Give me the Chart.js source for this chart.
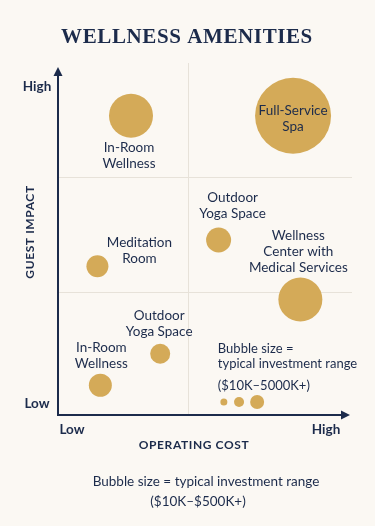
<!DOCTYPE html>
<html>
<head>
<meta charset="utf-8">
<script src="https://cdn.jsdelivr.net/npm/chart.js@4.4.1/dist/chart.umd.min.js"></script>
<style>
  html, body { margin: 0; padding: 0; background: #fbf8f3; overflow: hidden; }
  #wrap { width: 375px; height: 526px; position: relative; }
  canvas { display: block; }
</style>
</head>
<body>
<div id="wrap"><canvas id="wellnessChart" width="375" height="526"></canvas></div>
<script>
// amenity bubbles (cost = x, impact = y, size = bubble radius in px)
var categories = ['In-Room Wellness', 'Full-Service Spa', 'Outdoor Yoga Space', 'Meditation Room',
    'Wellness Center with Medical Services', 'Outdoor Yoga Space', 'In-Room Wellness'];
var labelLines = [['In-Room', 'Wellness'], ['Full-Service', 'Spa'], ['Outdoor', 'Yoga Space'], ['Meditation', 'Room'],
    ['Wellness', 'Center with', 'Medical Services'], ['Outdoor', 'Yoga Space'], ['In-Room', 'Wellness']];
var costValues = [2.5, 8.05, 5.5, 1.35, 8.3, 3.5, 1.45];
var impactValues = [8.55, 8.55, 5.0, 4.25, 3.3, 1.75, 0.85];
var investmentSizes = [22, 38, 12.5, 11, 22, 10, 11.5];

// size key bubbles
var keyCost = [5.68, 6.2, 6.82];
var keyImpact = [0.37, 0.37, 0.37];
var keySizes = [3.5, 5, 7];

var xTickLabels = ['Low', 'High'];
var yTickLabels = ['Low', 'High'];
var xGridValues = [4.45];
var yGridValues = [3.52, 6.79];

var navy = '#1c2b4b';
var gold = '#d4aa58';

var amenityData = categories.map(function (c, i) {
    return { x: costValues[i], y: impactValues[i], r: investmentSizes[i] };
});
var keyData = keyCost.map(function (c, i) {
    return { x: c, y: keyImpact[i], r: keySizes[i] };
});

// label placement relative to bubble center: [dx, dy of first line], line height 16
var labelOffsets = [[-2, 32], [0, -5], [14, -42], [42, -24], [-2, -64], [-1, -38], [1, -38]];

var gridLines = {
    id: 'gridLines',
    beforeDatasetsDraw: function (chart) {
        var ctx = chart.ctx;
        var xs = chart.scales.x, ys = chart.scales.y;
        var area = chart.chartArea;
        ctx.save();
        ctx.strokeStyle = '#e7e2d9';
        ctx.lineWidth = 1;
        xGridValues.forEach(function (v) {
            var px = Math.round(xs.getPixelForValue(v)) + 0.5;
            ctx.beginPath();
            ctx.moveTo(px, area.top - 2);
            ctx.lineTo(px, area.bottom);
            ctx.stroke();
        });
        yGridValues.forEach(function (v) {
            var py = Math.round(ys.getPixelForValue(v)) + 0.5;
            ctx.beginPath();
            ctx.moveTo(area.left, py);
            ctx.lineTo(area.right + 2, py);
            ctx.stroke();
        });
        ctx.restore();
    }
};

var annotations = {
    id: 'annotations',
    afterDatasetsDraw: function (chart) {
        var ctx = chart.ctx;
        var xs = chart.scales.x, ys = chart.scales.y;
        var area = chart.chartArea;
        ctx.save();

        // axes with arrows
        ctx.strokeStyle = navy;
        ctx.fillStyle = navy;
        ctx.lineWidth = 2;
        ctx.beginPath();
        ctx.moveTo(area.left, area.top + 6);
        ctx.lineTo(area.left, area.bottom);
        ctx.lineTo(area.right - 4, area.bottom);
        ctx.stroke();
        ctx.beginPath();
        ctx.moveTo(area.left, area.top + 2);
        ctx.lineTo(area.left - 4.5, area.top + 11);
        ctx.lineTo(area.left + 4.5, area.top + 11);
        ctx.closePath();
        ctx.fill();
        ctx.beginPath();
        ctx.moveTo(area.right, area.bottom);
        ctx.lineTo(area.right - 9, area.bottom - 4.5);
        ctx.lineTo(area.right - 9, area.bottom + 4.5);
        ctx.closePath();
        ctx.fill();

        // bubble labels
        ctx.textAlign = 'center';
        ctx.textBaseline = 'middle';
        ctx.font = '13.5px Lato';
        var meta = chart.getDatasetMeta(0);
        meta.data.forEach(function (pt, i) {
            var off = labelOffsets[i];
            labelLines[i].forEach(function (line, j) {
                ctx.fillText(line, pt.x + off[0], pt.y + off[1] + j * 16);
            });
        });

        // size key text
        var kx = xs.getPixelForValue(keyCost[0]) - 6;
        var ky = ys.getPixelForValue(keyImpact[0]);
        ctx.textAlign = 'left';
        ctx.font = '13px Lato';
        ctx.fillText('Bubble size =', kx, ky - 53);
        ctx.fillText('typical investment range', kx, ky - 38);
        ctx.fillText('($10K\u20135000K+)', kx, ky - 16);

        // tick labels
        ctx.font = 'bold 13.5px Lato';
        ctx.textAlign = 'center';
        ctx.fillText(yTickLabels[1], 37, ys.getPixelForValue(9.37));
        ctx.fillText(yTickLabels[0], 37, ys.getPixelForValue(0.32));
        ctx.fillText(xTickLabels[0], xs.getPixelForValue(0.48), area.bottom + 15);
        ctx.fillText(xTickLabels[1], xs.getPixelForValue(9.18), area.bottom + 15);

        // axis titles
        ctx.font = 'bold 12px Lato';
        ctx.letterSpacing = '0.6px';
        ctx.fillText('OPERATING COST', 194, area.bottom + 30);
        ctx.save();
        ctx.translate(30, 232);
        ctx.rotate(-Math.PI / 2);
        ctx.fillText('GUEST IMPACT', 0, 0);
        ctx.restore();

        // title
        ctx.font = 'bold 21px "Liberation Serif"';
        ctx.letterSpacing = '0.6px';
        ctx.fillText('WELLNESS AMENITIES', 187, 38);

        // caption
        ctx.letterSpacing = '0px';
        ctx.font = '13.5px Lato';
        ctx.fillText('Bubble size = typical investment range', 206, 482);
        ctx.fillText('($10K\u2013$500K+)', 198, 502);
        ctx.restore();
    }
};

var ctx = document.getElementById('wellnessChart').getContext('2d');
var wellnessChart = new Chart(ctx, {
    type: 'bubble',
    data: {
        datasets: [{
            data: amenityData,
            backgroundColor: gold,
            borderWidth: 0
        }, {
            data: keyData,
            backgroundColor: gold,
            borderWidth: 0
        }]
    },
    options: {
        responsive: false,
        animation: false,
        layout: {
            autoPadding: false,
            padding: { left: 58, right: 25, top: 65, bottom: 111 }
        },
        scales: {
            x: { display: false, min: 0, max: 10 },
            y: { display: false, min: 0, max: 10 }
        },
        plugins: {
            legend: { display: false },
            tooltip: { enabled: false }
        }
    },
    plugins: [gridLines, annotations]
});
</script>
</body>
</html>
